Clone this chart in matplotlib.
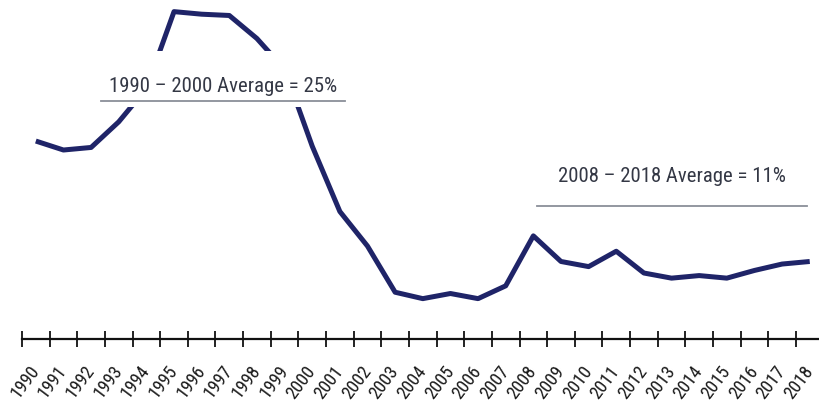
import numpy as np
import matplotlib
matplotlib.use("Agg")
import matplotlib.pyplot as plt
from matplotlib import font_manager
from matplotlib.font_manager import FontProperties
from matplotlib.textpath import TextToPath
from matplotlib.patches import Rectangle
from matplotlib.lines import Line2D

# Annual values, percent
years = [str(y) for y in range(1990, 2019)]
values = [20.7, 20.0, 20.2, 22.2, 24.8, 30.8, 30.6, 30.5, 28.7, 26.3, 20.3,
          15.2, 12.5, 8.9, 8.4, 8.8, 8.4, 9.4, 13.3, 11.3, 10.9, 12.1,
          10.4, 10.0, 10.2, 10.0, 10.6, 11.1, 11.3]

note_early = "1990 \u2013 2000 Average = 25%"
note_late = "2008 \u2013 2018 Average = 11%"

LINE_COLOR = "#1f2468"
NOTE_COLOR = "#343845"
RULE_COLOR = "#8a8f99"
DPI = 100


def pick_font():
    """Prefer a narrow sans face; fall back to a regular one."""
    fonts = font_manager.fontManager.ttflist
    names = {f.name for f in fonts}
    for name in ("Liberation Sans Narrow", "Arial Narrow", "Roboto Condensed",
                 "Open Sans Condensed", "Noto Sans Condensed",
                 "DejaVu Sans Condensed"):
        if name in names:
            return name, "normal"
    narrow = set()
    for f in fonts:
        st = f.stretch
        if (isinstance(st, str) and "condensed" in st) or \
           (isinstance(st, (int, float)) and st < 500):
            narrow.add(f.name)
    for name in ("Roboto", "Noto Sans", "Open Sans", "DejaVu Sans"):
        if name in narrow:
            return name, "condensed"
    return "Liberation Sans", "normal"


family, stretch = pick_font()
plt.rcParams["font.family"] = [family, "DejaVu Sans"]
plt.rcParams["font.stretch"] = stretch


def size_for_width(text, width_px):
    """Font size (pt) giving the requested rendered text width in pixels."""
    prop = FontProperties(family=family, stretch=stretch, size=10)
    w, _, _ = TextToPath().get_text_width_height_descent(text, prop, ismath=False)
    w_px = w * DPI / 72.0
    return 10.0 * width_px / w_px


note_size = size_for_width(note_early, 228)
tick_size = size_for_width("2010", 36)

W, H = 819, 406
fig = plt.figure(figsize=(W / DPI, H / DPI), dpi=DPI)
axis_px = 340
ax = fig.add_axes([0, (H - axis_px) / H, 1, axis_px / H])

x = np.arange(len(years))
ax.plot(x, values, color=LINE_COLOR, lw=3.6, solid_joinstyle="round",
        solid_capstyle="butt", zorder=2)

ax.set_xlim(-1.296, 28.335)
ax.set_ylim(5.25, 31.786)

for side in ("left", "right", "top"):
    ax.spines[side].set_visible(False)
ax.spines["bottom"].set_color("#111111")
ax.spines["bottom"].set_linewidth(1.6)
ax.spines["bottom"].set_bounds(-0.5, 28.335)
ax.set_yticks([])

# Boundary ticks between categories, labels at category centres
ax.set_xticks(x - 0.5)
ax.set_xticklabels([])
ax.tick_params(axis="x", which="major", direction="inout", length=12,
               width=1.3, color="#111111")
ax.set_xticks(x, labels=years, minor=True)
ax.tick_params(axis="x", which="minor", length=0, pad=20,
               labelsize=tick_size, labelcolor="#1a1a1a")
for lab in ax.get_xticklabels(minor=True):
    lab.set_rotation(53)
    lab.set_rotation_mode("anchor")
    lab.set_ha("right")
    lab.set_va("center")


def px(xp, yp):
    """Pixel position (from the top-left of the figure) to axes fraction."""
    return xp / W, (axis_px - yp) / axis_px


# Upper note sits on a white panel that masks the line behind it
x0, y0 = px(100, 108)
x1, y1 = px(346, 52)
ax.add_patch(Rectangle((x0, y0), x1 - x0, y1 - y0, transform=ax.transAxes,
                       facecolor="white", edgecolor="none", zorder=3))
tx, ty = px(223, 92)
ax.text(tx, ty, note_early, transform=ax.transAxes, ha="center",
        va="baseline", fontsize=note_size, color=NOTE_COLOR, zorder=4)
a, b = px(101, 101.7)
c, d = px(345, 101.7)
ax.add_line(Line2D([a, c], [b, d], transform=ax.transAxes,
                   color=RULE_COLOR, lw=1.3, zorder=4))

tx, ty = px(672, 182)
ax.text(tx, ty, note_late, transform=ax.transAxes, ha="center",
        va="baseline", fontsize=note_size, color=NOTE_COLOR, zorder=4)
a, b = px(537, 206.7)
c, d = px(807, 206.7)
ax.add_line(Line2D([a, c], [b, d], transform=ax.transAxes,
                   color=RULE_COLOR, lw=1.3, zorder=4))

fig.savefig("out.png", dpi=DPI, facecolor="white")
